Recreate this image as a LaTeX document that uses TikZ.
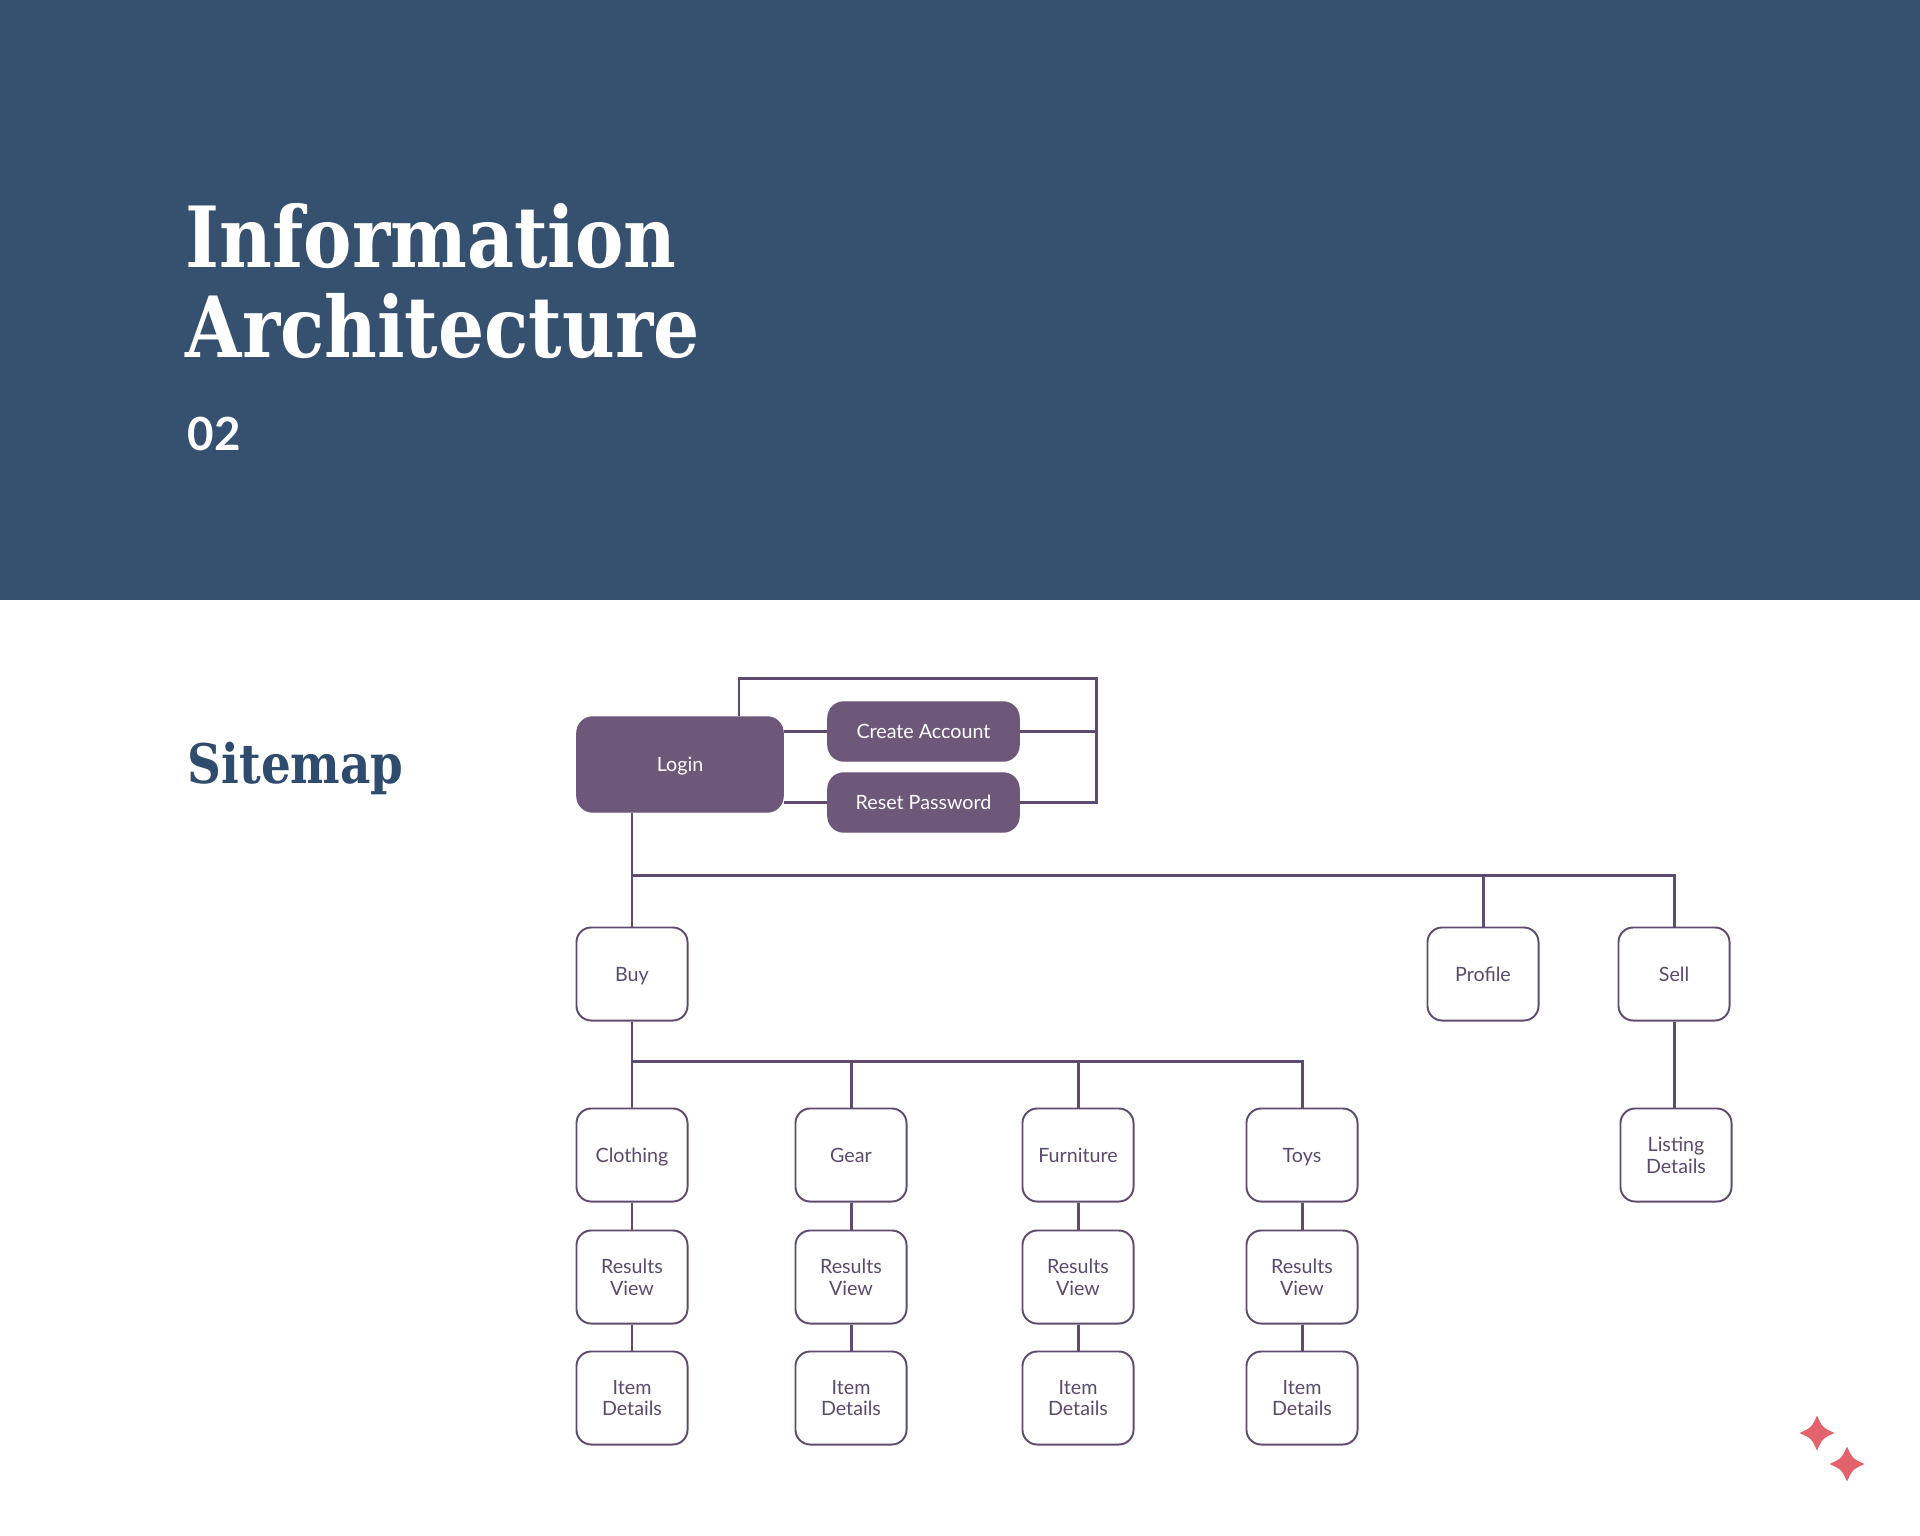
\documentclass[tikz,border=0pt]{standalone}
\usepackage{fontspec}
\usepackage{xcolor}
\usetikzlibrary{positioning}
\setmainfont{Lato}
\newfontfamily\slabfont[FakeStretch=0.86]{DejaVu Serif}
\definecolor{hdblue}{HTML}{36506F}
\definecolor{mapblue}{HTML}{2F4B6E}
\definecolor{plum}{HTML}{6D587A}
\definecolor{plumline}{HTML}{5F4B6F}
\definecolor{plumtext}{HTML}{5B4A6B}
\definecolor{starred}{HTML}{E2636B}
\tikzset{
  pbox/.style={fill=plum, draw=plum, rounded corners=4.5pt, align=center, font=\fontsize{5.6}{6.2}\selectfont, text=white, inner sep=2pt, text depth=0pt},
  wbox/.style={fill=white, draw=plumline, line width=0.55pt, rounded corners=4.2pt, align=center, font=\fontsize{5.6}{6.2}\selectfont, text=plumtext, minimum width=1.11cm, minimum height=0.93cm, inner sep=1pt, text depth=0pt},
  conn/.style={draw=plumline, line width=0.85pt},
  sparkle/.pic={\fill[starred] (0,-17.5) .. controls (5.5,-5.5) .. (17.5,0) .. controls (5.5,5.5) .. (0,17.5) .. controls (-5.5,5.5) .. (-17.5,0) .. controls (-5.5,-5.5) .. cycle;}
}

\begin{document}
\begin{tikzpicture}[x=0.01cm,y=-0.01cm]
\useasboundingbox (0,0) rectangle (1920,1536);
\fill[hdblue] (0,0) rectangle (1920,600);
% titles
\node[anchor=base west, inner sep=0, text=white, font=\slabfont\bfseries\fontsize{24}{28}\selectfont] (title1) at (185,267) {Information};
\node[anchor=base west, inner sep=0, text=white, font=\slabfont\bfseries\fontsize{24}{28}\selectfont] (title2) at (185,357) {Architecture};
\node[anchor=base west, inner sep=0, text=white, font=\bfseries\fontsize{13}{15}\selectfont] (num) at (187,450) {02};
\node[anchor=base west, inner sep=0, text=mapblue, font=\slabfont\bfseries\fontsize{15.5}{18}\selectfont] (sitemap) at (187,783) {Sitemap};
% login group
\node[pbox, minimum width=2.06cm, minimum height=0.95cm] (login) at (680,764.5) {Login};
\node[pbox, minimum width=1.91cm, minimum height=0.59cm] (create) at (923.5,731.5) {Create Account};
\node[pbox, minimum width=1.91cm, minimum height=0.59cm] (reset) at (923.5,802.5) {Reset Password};
% sections
\node[wbox] (buy) at (632,974) {Buy};
\node[wbox] (profile) at (1483,974) {Profile};
\node[wbox] (sell) at (1674,974) {Sell};
\node[wbox] (clothing) at (632,1155) {Clothing};
\node[wbox] (gear) at (851,1155) {Gear};
\node[wbox] (furniture) at (1078,1155) {Furniture};
\node[wbox] (toys) at (1302,1155) {Toys};
\node[wbox] (listing) at (1676,1155) {Listing\\Details};
\foreach \c in {clothing,gear,furniture,toys}{
  \node[wbox, below=0.27cm of \c] (\c-res) {Results\\View};
  \node[wbox, below=0.26cm of \c-res] (\c-item) {Item\\Details};
}
% connectors
\coordinate (loopTL) at (739,678);
\coordinate (loopTR) at (1096,678);
\coordinate (topbus) at (632,875);
\coordinate (buybus) at (632,1061);
\draw[conn] (login.north -| loopTL) -- (loopTL) -- (loopTR) |- (reset.east);
\draw[conn] (create.east) -- (create.east -| loopTR);
\draw[conn] (login.east |- create) -- (create.west);
\draw[conn] (login.east |- reset) -- (reset.west);
\draw[conn] (login.south -| buy) -- (buy.north);
\draw[conn] (topbus) -| (profile.north);
\draw[conn] (topbus) -| (sell.north);
\draw[conn] (sell.south) -- (sell.south |- listing.north);
\draw[conn] (buy.south) -- (clothing.north);
\foreach \c in {gear,furniture,toys}
  \draw[conn] (buybus) -| (\c.north);
\foreach \c in {clothing,gear,furniture,toys}{
  \draw[conn] (\c.south) -- (\c-res.north);
  \draw[conn] (\c-res.south) -- (\c-item.north);
}
% sparkles
\pic at (1817,1433) {sparkle};
\pic at (1847,1464) {sparkle};
\end{tikzpicture}
\end{document}
